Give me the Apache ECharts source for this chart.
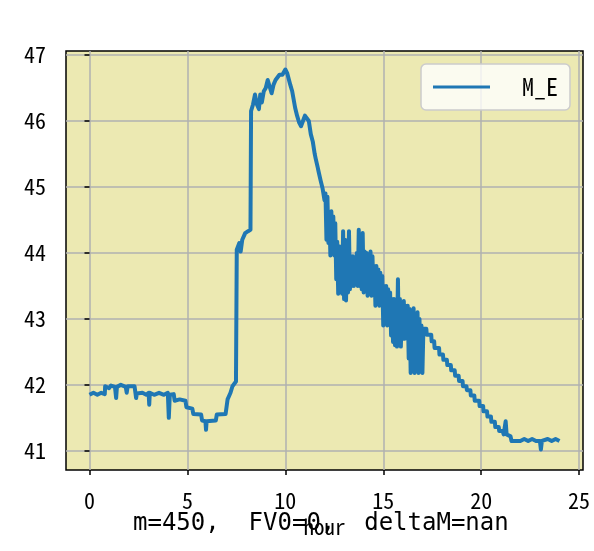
<!DOCTYPE html>
<html>
<head>
<meta charset="utf-8">
<script src="https://cdn.jsdelivr.net/npm/echarts@6/dist/echarts.min.js"></script>
<style>
  html, body { margin: 0; padding: 0; background: #fff; }
  #chart { width: 594px; height: 551px; }
</style>
</head>
<body>
<div id="chart"></div>
<script>
// hours and M_E values
var hours = [
  0.00, 0.20, 0.40, 0.60, 0.78, 0.80, 1.00, 1.10, 1.30, 1.36, 1.40, 1.60, 1.85, 1.90, 1.95,
  2.30, 2.35, 2.38, 2.42, 2.70, 2.90, 3.02, 3.05, 3.08, 3.30, 3.55, 3.80, 4.00, 4.05, 4.10,
  4.30, 4.35, 4.60, 4.90, 4.95, 5.25, 5.30, 5.70, 5.75, 5.92, 5.95, 5.98, 6.45, 6.50, 6.95,
  7.05, 7.20, 7.30, 7.48, 7.52, 7.65, 7.72, 7.80, 7.95, 8.10, 8.22, 8.25, 8.35, 8.45, 8.55,
  8.65, 8.72, 8.80, 8.90, 9.00, 9.10, 9.20, 9.30, 9.40, 9.50, 9.60, 9.70, 9.85, 10.00, 10.10,
  10.25, 10.35, 10.50, 10.60, 10.70, 10.80, 10.90, 11.00, 11.10, 11.20, 11.30, 11.40, 11.50, 11.55, 11.65,
  11.70, 11.80, 11.90, 12.00, 12.05, 12.10, 12.15, 12.20, 12.25, 12.30, 12.35, 12.40, 12.45, 12.50, 12.55,
  12.60, 12.65, 12.70, 12.75, 12.80, 12.85, 12.90, 12.95, 13.00, 13.05, 13.10, 13.15, 13.20, 13.25, 13.30,
  13.35, 13.40, 13.45, 13.50, 13.55, 13.60, 13.65, 13.70, 13.75, 13.80, 13.85, 13.90, 13.95, 14.00, 14.05,
  14.10, 14.15, 14.20, 14.25, 14.30, 14.35, 14.40, 14.45, 14.50, 14.55, 14.60, 14.65, 14.70, 14.75, 14.80,
  14.85, 14.90, 14.95, 15.00, 15.05, 15.10, 15.15, 15.20, 15.25, 15.30, 15.35, 15.40, 15.45, 15.50, 15.55,
  15.60, 15.65, 15.70, 15.75, 15.80, 15.85, 15.90, 15.95, 16.00, 16.05, 16.10, 16.15, 16.20, 16.25, 16.30,
  16.35, 16.40, 16.45, 16.50, 16.55, 16.60, 16.65, 16.70, 16.75, 16.80, 16.85, 16.90, 16.95, 17.00, 17.05,
  17.20, 17.22, 17.45, 17.47, 17.60, 17.62, 17.85, 17.87, 18.05, 18.07, 18.25, 18.27, 18.45, 18.47, 18.65,
  18.67, 18.85, 18.87, 19.05, 19.07, 19.25, 19.27, 19.45, 19.47, 19.65, 19.67, 19.90, 19.92, 20.10, 20.12,
  20.30, 20.32, 20.50, 20.52, 20.70, 20.72, 20.90, 20.92, 21.10, 21.15, 21.25, 21.30, 21.50, 21.55, 21.75,
  22.00, 22.20, 22.40, 22.60, 22.80, 23.00, 23.05, 23.10, 23.40, 23.60, 23.80, 24.00
];
var meVals = [
  41.85, 41.88, 41.85, 41.88, 41.86, 41.98, 41.95, 41.99, 41.97, 41.80, 41.97, 42.00, 41.97, 41.88, 41.98,
  41.98, 41.87, 41.80, 41.87, 41.88, 41.85, 41.88, 41.70, 41.88, 41.85, 41.88, 41.85, 41.88, 41.50, 41.85,
  41.86, 41.76, 41.78, 41.76, 41.66, 41.64, 41.56, 41.55, 41.46, 41.45, 41.32, 41.45, 41.46, 41.55, 41.56,
  41.78, 41.88, 41.98, 42.05, 44.05, 44.15, 44.02, 44.20, 44.30, 44.33, 44.35, 46.15, 46.25, 46.40, 46.25,
  46.18, 46.40, 46.28, 46.45, 46.50, 46.62, 46.60, 46.42, 46.55, 46.62, 46.60, 46.70, 46.70, 46.78, 46.72,
  46.55, 46.45, 46.20, 46.08, 45.98, 45.92, 46.00, 46.08, 46.05, 46.00, 45.80, 45.69, 45.50, 45.43, 45.30,
  45.23, 45.10, 44.98, 44.80, 44.90, 44.20, 44.85, 44.15, 44.60, 43.96, 44.63, 44.00, 44.55, 43.96, 44.45,
  43.60, 44.17, 43.38, 44.10, 43.45, 44.05, 43.38, 44.33, 43.30, 44.20, 43.28, 44.05, 43.40, 44.33, 43.45,
  43.95, 43.50, 43.95, 43.50, 43.90, 43.52, 44.00, 43.50, 44.35, 43.50, 44.20, 43.45, 44.30, 43.40, 44.02,
  43.45, 44.00, 43.35, 43.98, 43.40, 44.02, 43.35, 43.95, 43.40, 43.80, 43.20, 43.80, 43.25, 43.75, 43.20,
  43.70, 43.22, 43.65, 42.90, 43.50, 42.95, 43.50, 42.90, 43.45, 42.92, 43.40, 42.75, 43.30, 42.65, 43.30,
  42.60, 43.25, 42.58, 43.60, 42.60, 43.30, 42.58, 43.25, 42.70, 43.27, 42.70, 43.20, 42.72, 43.20, 42.40,
  43.15, 42.18, 43.10, 42.30, 43.16, 42.18, 43.05, 42.25, 43.10, 42.18, 43.00, 42.20, 42.90, 42.18, 42.85,
  42.85, 42.76, 42.76, 42.66, 42.66, 42.56, 42.56, 42.46, 42.46, 42.38, 42.38, 42.30, 42.30, 42.22, 42.22,
  42.14, 42.14, 42.06, 42.06, 41.98, 41.98, 41.92, 41.92, 41.84, 41.84, 41.76, 41.76, 41.68, 41.68, 41.60,
  41.60, 41.52, 41.52, 41.44, 41.44, 41.36, 41.36, 41.30, 41.30, 41.25, 41.45, 41.25, 41.22, 41.15, 41.15,
  41.15, 41.18, 41.15, 41.18, 41.15, 41.15, 41.02, 41.15, 41.18, 41.15, 41.18, 41.15
];
var seriesName = 'M_E';
var xName = 'hour';
var titleText = 'm=450,  FV0=0,  deltaM=nan';

var monoFont = "'Noto Sans Mono CJK SC', 'DejaVu Sans Mono', monospace";

var chart = echarts.init(document.getElementById('chart'));
var points = hours.map(function (h, i) { return [h, meVals[i]]; });

chart.setOption({
  animation: false,
  title: {
    text: titleText,
    left: 133,
    top: 512,
    padding: 0,
    textStyle: { fontFamily: "'DejaVu Sans Mono', monospace", fontSize: 24, fontWeight: 'normal', color: '#000' }
  },
  legend: {
    right: 24,
    top: 64,
    padding: [11, 12, 11, 12],
    icon: 'rect',
    itemWidth: 57,
    itemHeight: 3,
    backgroundColor: 'rgba(255,255,255,0.8)',
    borderColor: '#cccccc',
    borderWidth: 1.5,
    borderRadius: 5,
    textStyle: { fontFamily: monoFont, fontSize: 24, color: '#000', padding: [0, 0, 0, 27] },
    data: [seriesName]
  },
  grid: {
    left: 66, right: 11, top: 51, bottom: 81,
    show: true,
    backgroundColor: '#ece9b2',
    borderColor: '#000',
    borderWidth: 1.5
  },
  xAxis: {
    type: 'value',
    min: -1.2,
    max: 25.2,
    splitNumber: 5,
    name: xName,
    nameLocation: 'middle',
    nameGap: 44,
    nameTextStyle: { fontFamily: monoFont, fontSize: 21, color: '#000' },
    axisLine: { show: false },
    axisTick: { show: true, length: 5, lineStyle: { color: '#000', width: 1.5 } },
    axisLabel: { margin: 20, showMinLabel: false, showMaxLabel: false, fontFamily: monoFont, fontSize: 22, color: '#000' },
    splitLine: { show: true, showMinLine: false, showMaxLine: false, lineStyle: { color: '#b0b0b0', width: 1.5 } }
  },
  yAxis: {
    type: 'value',
    min: 40.71,
    max: 47.06,
    splitNumber: 6,
    axisLine: { show: false },
    axisTick: { show: true, length: 5, lineStyle: { color: '#000', width: 1.5 } },
    axisLabel: { margin: 20, showMinLabel: false, showMaxLabel: false, fontFamily: monoFont, fontSize: 22, color: '#000' },
    splitLine: { show: true, showMinLine: false, showMaxLine: false, lineStyle: { color: '#b0b0b0', width: 1.5 } }
  },
  series: [{
    name: seriesName,
    type: 'line',
    data: points,
    symbol: 'none',
    lineStyle: { color: '#1f77b4', width: 4, join: 'round' },
    itemStyle: { color: '#1f77b4' }
  }]
});
</script>
</body>
</html>
